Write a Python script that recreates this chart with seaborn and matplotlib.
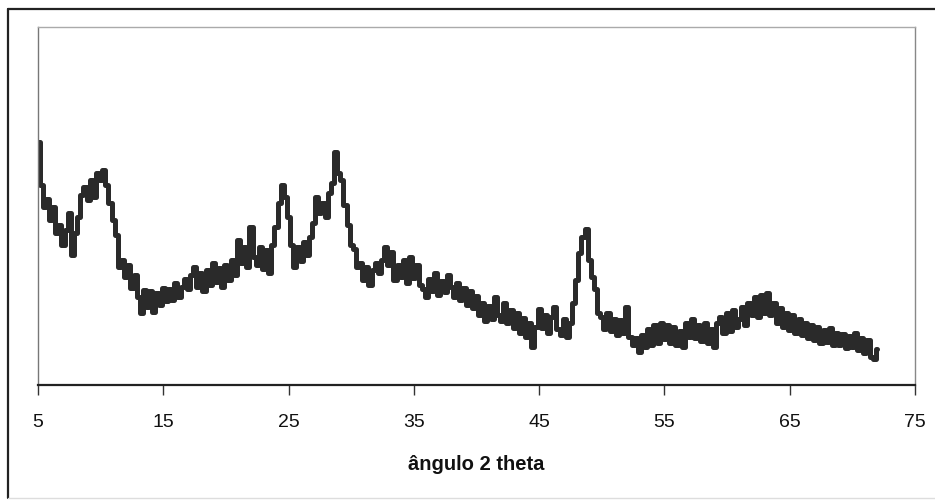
import numpy as np
import pandas as pd
import seaborn as sns
import matplotlib
matplotlib.use("Agg")
import matplotlib.pyplot as plt
from matplotlib.lines import Line2D

# Diffraction scan: 2-theta from 5 to 72 degrees in 0.25 degree steps
two_theta_start = 5.0
two_theta_step = 0.25

# Intensity (arbitrary units), one value per step
intensity = [
    243, 200, 178, 186, 165, 178, 152, 160, 140, 155, 172, 130, 152, 168, 190, 198,
    185, 205, 188, 212, 205, 215, 200, 182, 165, 150, 118, 125, 108, 120, 97, 110,
    88, 72, 95, 78, 94, 73, 92, 80, 97, 84, 96, 85, 102, 88, 98, 106,
    96, 110, 118, 98, 112, 94, 115, 100, 122, 103, 117, 98, 120, 105, 125, 110,
    145, 122, 138, 118, 158, 128, 120, 138, 116, 135, 112, 140, 158, 182, 200, 188,
    168, 140, 118, 138, 124, 143, 130, 148, 162, 188, 172, 182, 168, 192, 202, 233,
    212, 205, 180, 160, 140, 136, 118, 122, 105, 118, 100, 115, 122, 112, 125, 138,
    120, 133, 105, 120, 108, 125, 102, 128, 107, 120, 100, 96, 88, 106, 94, 112,
    90, 104, 93, 110, 98, 88, 102, 85, 97, 80, 94, 77, 89, 70, 82, 64,
    79, 66, 88, 70, 64, 82, 62, 75, 57, 72, 52, 67, 48, 62, 38, 58,
    76, 57, 70, 52, 68, 78, 56, 50, 66, 48, 62, 82, 105, 132, 148, 156,
    125, 108, 96, 72, 68, 56, 72, 54, 66, 50, 65, 52, 78, 48, 40, 47,
    33, 50, 38, 56, 40, 60, 42, 62, 46, 60, 42, 58, 40, 54, 38, 62,
    48, 66, 47, 60, 44, 62, 42, 56, 38, 62, 68, 52, 72, 54, 75, 58,
    66, 78, 60, 82, 70, 88, 68, 90, 72, 92, 70, 82, 62, 77, 58, 72,
    55, 70, 52, 66, 50, 62, 47, 60, 45, 58, 42, 55, 43, 57, 40, 52,
    40, 51, 37, 49, 38, 52, 35, 47, 32, 45, 28, 26, 36,
]

x_ticks = [5, 15, 25, 35, 45, 55, 65, 75]
x_label = "ângulo 2 theta"

two_theta = two_theta_start + two_theta_step * np.arange(len(intensity))
scan = pd.DataFrame({"two_theta": two_theta, "intensity": intensity})

sns.set_theme(style="white")
plt.rcParams["font.family"] = ["Liberation Sans", "DejaVu Sans"]

fig = plt.figure(figsize=(9.35, 5.0), dpi=100)
ax = fig.add_axes([38 / 935, 1 - 385 / 500, (915 - 38) / 935, (385 - 27) / 500])

sns.lineplot(data=scan, x="two_theta", y="intensity", ax=ax,
             color="#2a2a2a", linewidth=3.6, drawstyle="steps-mid")

ax.set_xlim(5, 75)
ax.set_ylim(0, 358)
ax.set_xticks(x_ticks)
ax.set_xticklabels([str(t) for t in x_ticks])
ax.set_yticks([])
ax.set_ylabel("")
ax.set_xlabel(x_label, fontsize=14.5, fontweight="bold", labelpad=17, color="#111111")

ax.tick_params(axis="x", direction="out", length=7, width=1.0, color="#333333",
               labelsize=14, labelcolor="#111111", pad=14, bottom=True)

for side, col, lw in [("bottom", "#222222", 1.6), ("left", "#777777", 1.0),
                      ("top", "#aaaaaa", 1.0), ("right", "#888888", 1.0)]:
    ax.spines[side].set_visible(True)
    ax.spines[side].set_color(col)
    ax.spines[side].set_linewidth(lw)

# Outer frame of the figure
fig.add_artist(Line2D([8 / 935, 8 / 935], [1 - 498 / 500, 1 - 9 / 500],
                      transform=fig.transFigure, color="#222222", linewidth=1.6))
fig.add_artist(Line2D([8 / 935, 1.0], [1 - 9 / 500, 1 - 9 / 500],
                      transform=fig.transFigure, color="#222222", linewidth=1.6))
fig.add_artist(Line2D([8 / 935, 1.0], [1 - 498 / 500, 1 - 498 / 500],
                      transform=fig.transFigure, color="#dddddd", linewidth=1.0))

fig.savefig("out.png", dpi=100, facecolor="white")
